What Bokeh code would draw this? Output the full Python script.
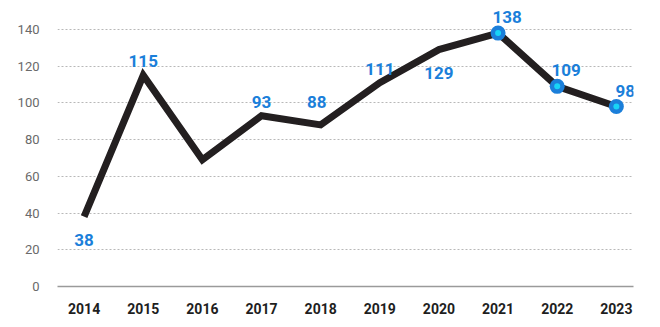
from bokeh.plotting import figure
from bokeh.models import FixedTicker, ColumnDataSource, Range1d
from bokeh.core.properties import value
from bokeh.embed import file_html
from bokeh.resources import INLINE

years = [2014, 2015, 2016, 2017, 2018, 2019, 2020, 2021, 2022, 2023]
values = [38, 115, 69, 93, 88, 111, 129, 138, 109, 98]
labels = ["38", "115", "", "93", "88", "111", "129", "138", "109", "98"]
y_ticks = [0, 20, 40, 60, 80, 100, 120, 140]
marker_years = [2021, 2022, 2023]

# style: where each value label sits
placement = ["below", "above", None, "above", "high", "above", "below", "marker", "marker", "marker"]

LINE = "#231f20"
BLUE = "#1b7fda"
CYAN = "#18d4f6"

p = figure(width=660, height=327, output_backend="svg", toolbar_location=None,
           x_range=Range1d(2013.55, 2023.29), y_range=Range1d(0, 150.3),
           min_border_left=57, min_border_right=27, min_border_top=10, min_border_bottom=41)
p.outline_line_color = None
p.background_fill_color = "white"
p.border_fill_color = "white"

p.xgrid.grid_line_color = None
p.ygrid.ticker = FixedTicker(ticks=y_ticks)
p.ygrid.grid_line_color = "#b8b8b8"
p.ygrid.grid_line_dash = "2 2"
p.ygrid.grid_line_width = 1

p.yaxis.ticker = FixedTicker(ticks=y_ticks)
p.yaxis.axis_line_color = None
p.yaxis.major_tick_line_color = None
p.yaxis.minor_tick_line_color = None
p.yaxis.major_label_text_font = "Roboto"
p.yaxis.major_label_text_font_size = "13px"
p.yaxis.major_label_text_color = "#6a6a6a"
p.yaxis.major_label_standoff = 12

p.xaxis.ticker = FixedTicker(ticks=years)
p.xaxis.axis_line_color = "#9a9a9a"
p.xaxis.axis_line_width = 1.5
p.xaxis.major_tick_line_color = None
p.xaxis.minor_tick_line_color = None
p.xaxis.major_label_text_font = "Roboto"
p.xaxis.major_label_text_font_style = "bold"
p.xaxis.major_label_text_font_size = "14px"
p.xaxis.major_label_text_color = "#1e1e1e"
p.xaxis.major_label_standoff = 10

p.line(years, values, line_width=7, line_color=LINE, line_join="miter", line_cap="butt")

mv = [values[years.index(y)] for y in marker_years]
p.scatter(marker_years, mv, size=15, fill_color=BLUE, line_color=None)
p.scatter(marker_years, mv, size=6, fill_color=CYAN, line_color=None)

def group(kind):
    idx = [i for i, k in enumerate(placement) if k == kind]
    return ColumnDataSource(dict(x=[years[i] for i in idx], y=[values[i] for i in idx],
                                 t=[labels[i] for i in idx]))

common = dict(text_font=value("Roboto"), text_font_style="bold", text_font_size="17px",
              text_color=BLUE, text_align="center", text_baseline="alphabetic")
p.text(x="x", y="y", text="t", source=group("above"), y_offset=-14, **common)
p.text(x="x", y="y", text="t", source=group("high"), x_offset=-4, y_offset=-23, **common)
p.text(x="x", y="y", text="t", source=group("below"), y_offset=23, **common)
p.text(x="x", y="y", text="t", source=group("marker"), x_offset=9, y_offset=-16, **common)

open("out.html", "w").write(file_html(p, INLINE))
